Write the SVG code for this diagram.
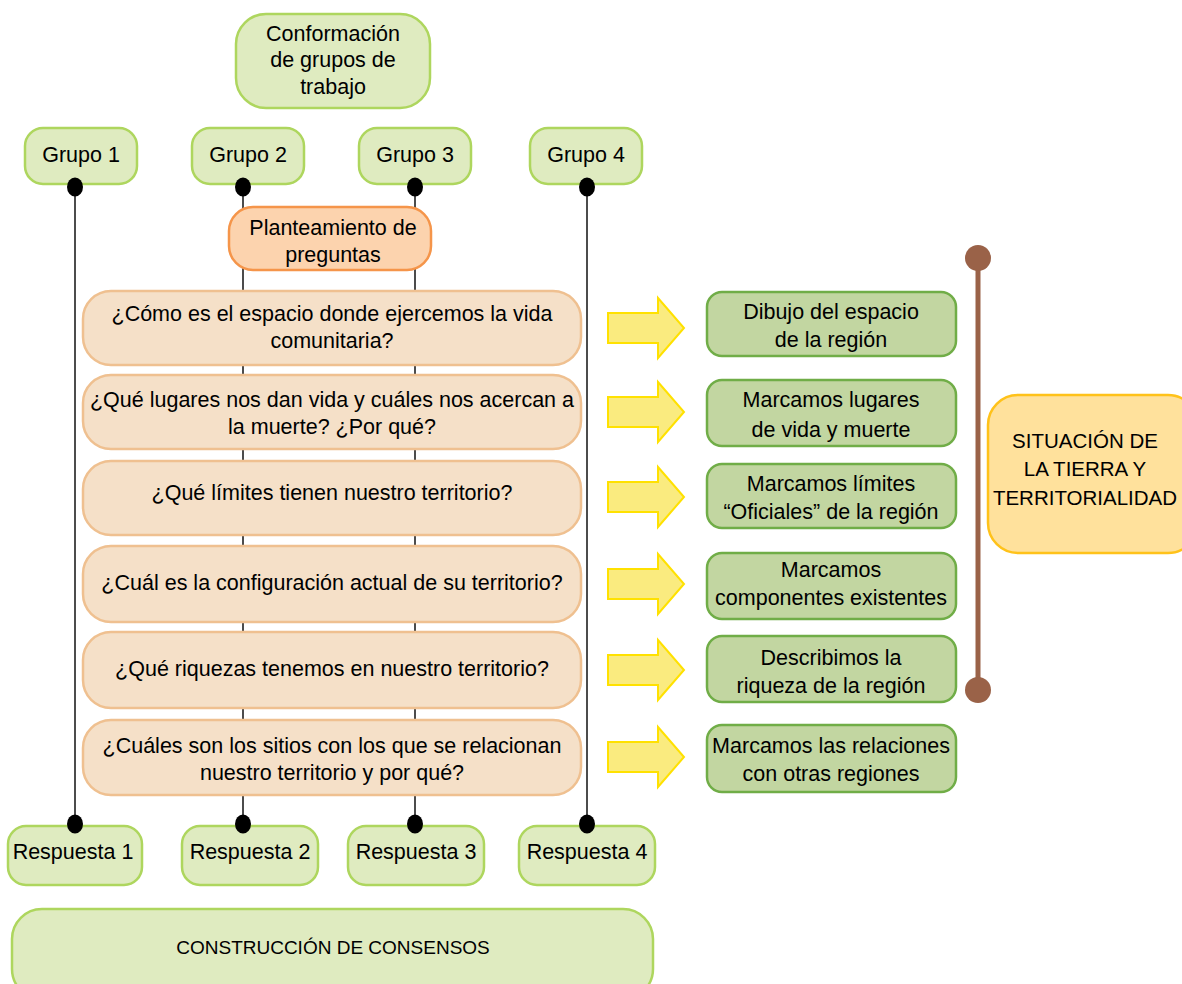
<svg xmlns="http://www.w3.org/2000/svg" width="1182" height="984" viewBox="0 0 1182 984">
<defs>
<style>
text{font-family:"Liberation Sans",Arial,sans-serif;font-size:21.5px;fill:#000;text-anchor:middle;dominant-baseline:central}
text.caps{font-size:20.5px}
text.cons{font-size:19px}
.lg{fill:#DFEBC0;stroke:#AED65E;stroke-width:2.5}
.or{fill:#FCD3AE;stroke:#F5954A;stroke-width:2.5}
.q{fill:#F5E0C8;stroke:#EFC090;stroke-width:2.5}
.dg{fill:#C2D6A1;stroke:#70AD47;stroke-width:2.5}
.ar{fill:#FAEB7F;stroke:#FFE100;stroke-width:2}
.sit{fill:#FFE19C;stroke:#FFC21A;stroke-width:2.5}
.ln{stroke:#111;stroke-width:1.5;fill:none}
.dot{fill:#000}
</style>
<path id="arr" d="M0,-15 H50 V-30 L76,0 L50,30 V15 H0 Z"/>
</defs>
<rect width="1182" height="984" fill="#fff"/>
<g id="connectors">
<line class="ln" x1="75" y1="186" x2="75" y2="824"/>
<line class="ln" x1="243" y1="186" x2="243" y2="824"/>
<line class="ln" x1="415" y1="186" x2="415" y2="824"/>
<line class="ln" x1="587" y1="186" x2="587" y2="824"/>
<line x1="978" y1="258" x2="978" y2="690" stroke="#9A6248" stroke-width="5"/>
<circle cx="978" cy="258" r="13" fill="#9A6248"/>
<circle cx="978" cy="690" r="13" fill="#9A6248"/>
<use href="#arr" class="ar" x="608" y="328"/>
<use href="#arr" class="ar" x="608" y="412"/>
<use href="#arr" class="ar" x="608" y="497"/>
<use href="#arr" class="ar" x="608" y="584"/>
<use href="#arr" class="ar" x="608" y="670"/>
<use href="#arr" class="ar" x="608" y="757"/>
</g>
<g id="conformacion"><rect class="lg" x="236" y="14" width="194" height="94" rx="30"/>
<text x="333" y="34">Conformación</text><text x="333" y="60">de grupos de</text><text x="333" y="87">trabajo</text></g>
<g id="grupo1"><rect class="lg" x="25" y="128" width="112" height="56" rx="18"/><text x="81" y="155">Grupo 1</text></g>
<g id="grupo2"><rect class="lg" x="192" y="128" width="112" height="56" rx="18"/><text x="248" y="155">Grupo 2</text></g>
<g id="grupo3"><rect class="lg" x="359" y="128" width="112" height="56" rx="18"/><text x="415" y="155">Grupo 3</text></g>
<g id="grupo4"><rect class="lg" x="530" y="128" width="112" height="56" rx="18"/><text x="586" y="155">Grupo 4</text></g>
<g id="planteamiento"><rect class="or" x="229" y="207" width="202" height="63" rx="24"/>
<text x="333" y="228">Planteamiento de</text><text x="333" y="255">preguntas</text></g>
<g id="q1"><rect class="q" x="83" y="291" width="498" height="74" rx="28"/>
<text x="332" y="314">¿Cómo es el espacio donde ejercemos la vida</text><text x="332" y="341">comunitaria?</text></g>
<g id="q2"><rect class="q" x="83" y="375" width="498" height="74" rx="28"/>
<text x="332" y="400">¿Qué lugares nos dan vida y cuáles nos acercan a</text><text x="332" y="427">la muerte? ¿Por qué?</text></g>
<g id="q3"><rect class="q" x="83" y="461" width="498" height="74" rx="28"/>
<text x="332" y="493">¿Qué límites tienen nuestro territorio?</text></g>
<g id="q4"><rect class="q" x="83" y="546" width="498" height="76" rx="28"/>
<text x="332" y="583">¿Cuál es la configuración actual de su territorio?</text></g>
<g id="q5"><rect class="q" x="83" y="632" width="498" height="76" rx="28"/>
<text x="332" y="669">¿Qué riquezas tenemos en nuestro territorio?</text></g>
<g id="q6"><rect class="q" x="83" y="720" width="498" height="75" rx="28"/>
<text x="332" y="746">¿Cuáles son los sitios con los que se relacionan</text><text x="332" y="773">nuestro territorio y por qué?</text></g>
<g id="r1"><rect class="dg" x="707" y="292" width="249" height="64" rx="15"/>
<text x="831" y="312">Dibujo del espacio</text><text x="831" y="340">de la región</text></g>
<g id="r2"><rect class="dg" x="707" y="380" width="249" height="66" rx="15"/>
<text x="831" y="400">Marcamos lugares</text><text x="831" y="430">de vida y muerte</text></g>
<g id="r3"><rect class="dg" x="707" y="464" width="249" height="64" rx="15"/>
<text x="831" y="484">Marcamos límites</text><text x="831" y="512">“Oficiales” de la región</text></g>
<g id="r4"><rect class="dg" x="707" y="553" width="249" height="66" rx="15"/>
<text x="831" y="570">Marcamos</text><text x="831" y="598">componentes existentes</text></g>
<g id="r5"><rect class="dg" x="707" y="636" width="249" height="66" rx="15"/>
<text x="831" y="658">Describimos la</text><text x="831" y="686">riqueza de la región</text></g>
<g id="r6"><rect class="dg" x="707" y="725" width="249" height="67" rx="15"/>
<text x="831" y="746">Marcamos las relaciones</text><text x="831" y="774">con otras regiones</text></g>
<g id="situacion"><rect class="sit" x="988" y="395" width="210" height="158" rx="30"/>
<text class="caps" x="1085" y="440">SITUACIÓN DE</text><text class="caps" x="1085" y="468">LA TIERRA Y</text><text class="caps" x="1085" y="497">TERRITORIALIDAD</text></g>
<g id="resp1"><rect class="lg" x="8" y="826" width="134" height="59" rx="18"/><text x="73" y="852">Respuesta 1</text></g>
<g id="resp2"><rect class="lg" x="182" y="826" width="136" height="59" rx="18"/><text x="250" y="852">Respuesta 2</text></g>
<g id="resp3"><rect class="lg" x="348" y="826" width="136" height="59" rx="18"/><text x="416" y="852">Respuesta 3</text></g>
<g id="resp4"><rect class="lg" x="519" y="826" width="136" height="59" rx="18"/><text x="587" y="852">Respuesta 4</text></g>
<g id="consensos"><rect class="lg" x="12" y="909" width="641" height="90" rx="30"/><text class="cons" x="333" y="947">CONSTRUCCIÓN DE CONSENSOS</text></g>
<g id="connector-ends">
<ellipse class="dot" cx="75" cy="187" rx="8" ry="9.5"/>
<ellipse class="dot" cx="243" cy="187" rx="8" ry="9.5"/>
<ellipse class="dot" cx="415" cy="187" rx="8" ry="9.5"/>
<ellipse class="dot" cx="587" cy="187" rx="8" ry="9.5"/>
<ellipse class="dot" cx="75" cy="824" rx="8" ry="9.5"/>
<ellipse class="dot" cx="243" cy="824" rx="8" ry="9.5"/>
<ellipse class="dot" cx="415" cy="824" rx="8" ry="9.5"/>
<ellipse class="dot" cx="587" cy="824" rx="8" ry="9.5"/>
</g>
</svg>
